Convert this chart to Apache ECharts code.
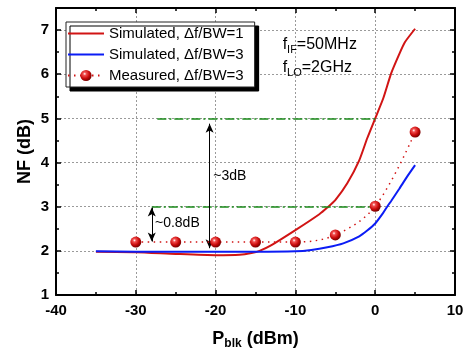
<!DOCTYPE html>
<html>
<head>
<meta charset="utf-8">
<script src="https://cdn.jsdelivr.net/npm/echarts@6/dist/echarts.min.js"></script>
<style>
  html, body { margin: 0; padding: 0; background: #fff; }
  #chart { width: 468px; height: 352px; }
</style>
</head>
<body>
<div id="chart"></div>
<script>
// Noise figure versus blocker power
const xTicks = [-40, -30, -20, -10, 0, 10];
const yTicks = [1, 2, 3, 4, 5, 6, 7];

// Simulated, Δf/BW=1  [Pblk (dBm), NF (dB)]
const simBW1 = [
  [-35, 1.98], [-30, 1.97], [-25, 1.93], [-20, 1.90], [-17, 1.91], [-15.5, 1.95],
  [-14.5, 2.00], [-13, 2.13], [-10, 2.47], [-7, 2.83], [-6, 2.98], [-5, 3.15],
  [-3.5, 3.53], [-2, 4.05], [-1, 4.55], [0, 5.00], [1, 5.45], [2, 6.02],
  [3, 6.45], [3.7, 6.72], [5, 7.03]
];

// Simulated, Δf/BW=3
const simBW3 = [
  [-35, 1.99], [-30, 1.98], [-25, 1.98], [-20, 1.98], [-15, 1.98], [-10, 1.99],
  [-8, 2.02], [-6, 2.08], [-4, 2.17], [-2, 2.33], [-1, 2.46], [0, 2.62],
  [1, 2.86], [1.5, 3.00], [2, 3.13], [3, 3.40], [4, 3.68], [5, 3.94]
];

// Measured, Δf/BW=3
const measX = [-30, -25, -20, -15, -10, -5, 0, 5];
const measY = [2.2, 2.2, 2.2, 2.2, 2.2, 2.36, 3.01, 4.69];

// Reference levels and the arrows between them
const refLevels = [
  { from: -27.3, to: 0, y: 5.0 },
  { from: -28.0, to: 0, y: 3.0 }
];
const arrows = [
  { x: -20.75, y0: 2.06, y1: 4.88, text: '~3dB', tx: -20.3, ty: 3.7 },
  { x: -28.0, y0: 2.21, y1: 2.98, text: '~0.8dB', tx: -27.6, ty: 2.63 }
];

const FONT = 'Liberation Sans, Arial, sans-serif';
const RED = '#d11414';
const BLUE = '#0b1cf5';
const GREEN = '#1a8a1a';

const sphere = {
  type: 'radial', x: 0.38, y: 0.35, r: 0.65,
  colorStops: [
    { offset: 0, color: '#ffffff' },
    { offset: 0.22, color: '#f25050' },
    { offset: 0.65, color: '#c80a0a' },
    { offset: 1, color: '#7a0000' }
  ]
};

function baseX(pos, labels) {
  return {
    type: 'value', position: pos, min: xTicks[0], max: xTicks[xTicks.length - 1], interval: 10,
    axisLine: { show: true, onZero: false, lineStyle: { color: '#000', width: 2 } },
    axisTick: { show: true, inside: true, length: 5, lineStyle: { color: '#000', width: 1.5 } },
    minorTick: { show: true, splitNumber: 2, length: 3, lineStyle: { color: '#000', width: 1.5 } },
    axisLabel: labels ? { show: true, color: '#000', fontFamily: FONT, fontWeight: 'bold', fontSize: 15, margin: 8 } : { show: false },
    splitLine: { show: labels, lineStyle: { color: '#9a9a9a', type: [2, 2], width: 1 } }
  };
}
function baseY(pos, labels) {
  return {
    type: 'value', position: pos, min: yTicks[0], max: 7.5, interval: 1,
    axisLine: { show: true, onZero: false, lineStyle: { color: '#000', width: 2 } },
    axisTick: { show: true, inside: true, length: 5, lineStyle: { color: '#000', width: 1.5 } },
    minorTick: { show: true, splitNumber: 2, length: 3, lineStyle: { color: '#000', width: 1.5 } },
    axisLabel: labels ? { show: true, showMaxLabel: false, color: '#000', fontFamily: FONT, fontWeight: 'bold', fontSize: 15, margin: 7 } : { show: false },
    splitLine: { show: labels, lineStyle: { color: '#9a9a9a', type: [2, 2], width: 1 } }
  };
}

const xAxisBottom = baseX('bottom', true);
xAxisBottom.name = '{b|P}{s|blk}{b| (dBm)}';
xAxisBottom.nameLocation = 'middle';
xAxisBottom.nameGap = 33;
xAxisBottom.nameMoveOverlap = false;
xAxisBottom.nameTextStyle = {
  rich: {
    b: { fontFamily: FONT, fontWeight: 'bold', fontSize: 18, color: '#000', lineHeight: 22 },
    s: { fontFamily: FONT, fontWeight: 'bold', fontSize: 12, color: '#000', lineHeight: 22, verticalAlign: 'bottom' }
  }
};
const yAxisLeft = baseY('left', true);
yAxisLeft.name = 'NF (dB)';
yAxisLeft.nameLocation = 'middle';
yAxisLeft.nameGap = 22;
yAxisLeft.nameMoveOverlap = false;
yAxisLeft.nameTextStyle = { fontFamily: FONT, fontWeight: 'bold', fontSize: 18, color: '#000' };

// thin bar used as the legend sample for the solid curves
const LINE_ICON = 'path://M0,0H70V4H0Z';
const legendNames = ['Simulated, Δf/BW=1', 'Simulated, Δf/BW=3', 'Measured, Δf/BW=3'];

const chart = echarts.init(document.getElementById('chart'), null, { renderer: 'canvas' });

chart.setOption({
  animation: false,
  backgroundColor: '#fff',
  grid: { left: 56, right: 13, top: 8, bottom: 57, containLabel: false, outerBoundsMode: 'none' },
  xAxis: [xAxisBottom, baseX('top', false)],
  yAxis: [yAxisLeft, baseY('right', false)],
  legend: {
    orient: 'vertical', left: 66, top: 22, z: 20,
    padding: [4, 11, 4, 1], itemGap: 6, itemWidth: 36, itemHeight: 14,
    backgroundColor: '#fff', borderColor: '#222', borderWidth: 1,
    // hard black drop shadow under the box
    shadowColor: '#000', shadowBlur: 0.01, shadowOffsetX: 4, shadowOffsetY: 4,
    textStyle: { fontFamily: FONT, fontSize: 15, color: '#000' },
    data: [
      { name: legendNames[0], icon: LINE_ICON, itemStyle: { color: RED } },
      { name: legendNames[1], icon: LINE_ICON, itemStyle: { color: BLUE } },
      { name: legendNames[2] }
    ]
  },
  series: [
    {
      name: legendNames[0], type: 'line', data: simBW1, smooth: 0.2,
      symbol: 'none', lineStyle: { color: RED, width: 2 }, itemStyle: { color: RED }, z: 3
    },
    {
      name: legendNames[1], type: 'line', data: simBW3, smooth: 0.2,
      symbol: 'none', lineStyle: { color: BLUE, width: 2 }, itemStyle: { color: BLUE }, z: 4
    },
    {
      name: legendNames[2], type: 'line', data: measX.map((x, i) => [x, measY[i]]),
      smooth: 0.35, symbol: 'circle', symbolSize: 11,
      lineStyle: { color: RED, width: 1.5, type: [1.5, 4.5] },
      itemStyle: { color: sphere, borderWidth: 0 }, z: 5
    },
    {
      // reference levels, arrows and annotations
      name: 'annot', type: 'line', data: [], silent: true, z: 6,
      markLine: {
        silent: true, animation: false,
        data: refLevels.map(r => [
          { coord: [r.from, r.y], symbol: 'none', lineStyle: { color: GREEN, width: 1.6, type: [9, 3, 2, 3] } },
          { coord: [r.to, r.y], symbol: 'none' }
        ]).concat(arrows.map(a => [
          { coord: [a.x, a.y0], symbol: 'arrow', symbolSize: [6, 9], lineStyle: { color: '#000', width: 1, type: 'solid' } },
          { coord: [a.x, a.y1], symbol: 'arrow', symbolSize: [6, 9] }
        ])),
        label: { show: false }
      },
      markPoint: {
        silent: true, animation: false, symbol: 'circle', symbolSize: 0,
        data: arrows.map(a => ({
          coord: [a.tx, a.ty], value: a.text,
          label: { show: true, position: 'right', distance: 0, formatter: a.text, color: '#000', fontFamily: FONT, fontSize: 14 }
        })).concat([
          {
            coord: [-11.6, 6.66], value: 'IF',
            label: {
              show: true, position: 'right', distance: 0, formatter: '{m|f}{s|IF}{m|=50MHz}',
              rich: {
                m: { fontFamily: FONT, fontSize: 16, color: '#000', lineHeight: 20 },
                s: { fontFamily: FONT, fontSize: 11, color: '#000', lineHeight: 20, verticalAlign: 'bottom' }
              }
            }
          },
          {
            coord: [-11.6, 6.14], value: 'LO',
            label: {
              show: true, position: 'right', distance: 0, formatter: '{m|f}{s|LO}{m|=2GHz}',
              rich: {
                m: { fontFamily: FONT, fontSize: 16, color: '#000', lineHeight: 20 },
                s: { fontFamily: FONT, fontSize: 11, color: '#000', lineHeight: 20, verticalAlign: 'bottom' }
              }
            }
          }
        ])
      }
    }
  ]
});
</script>
</body>
</html>
